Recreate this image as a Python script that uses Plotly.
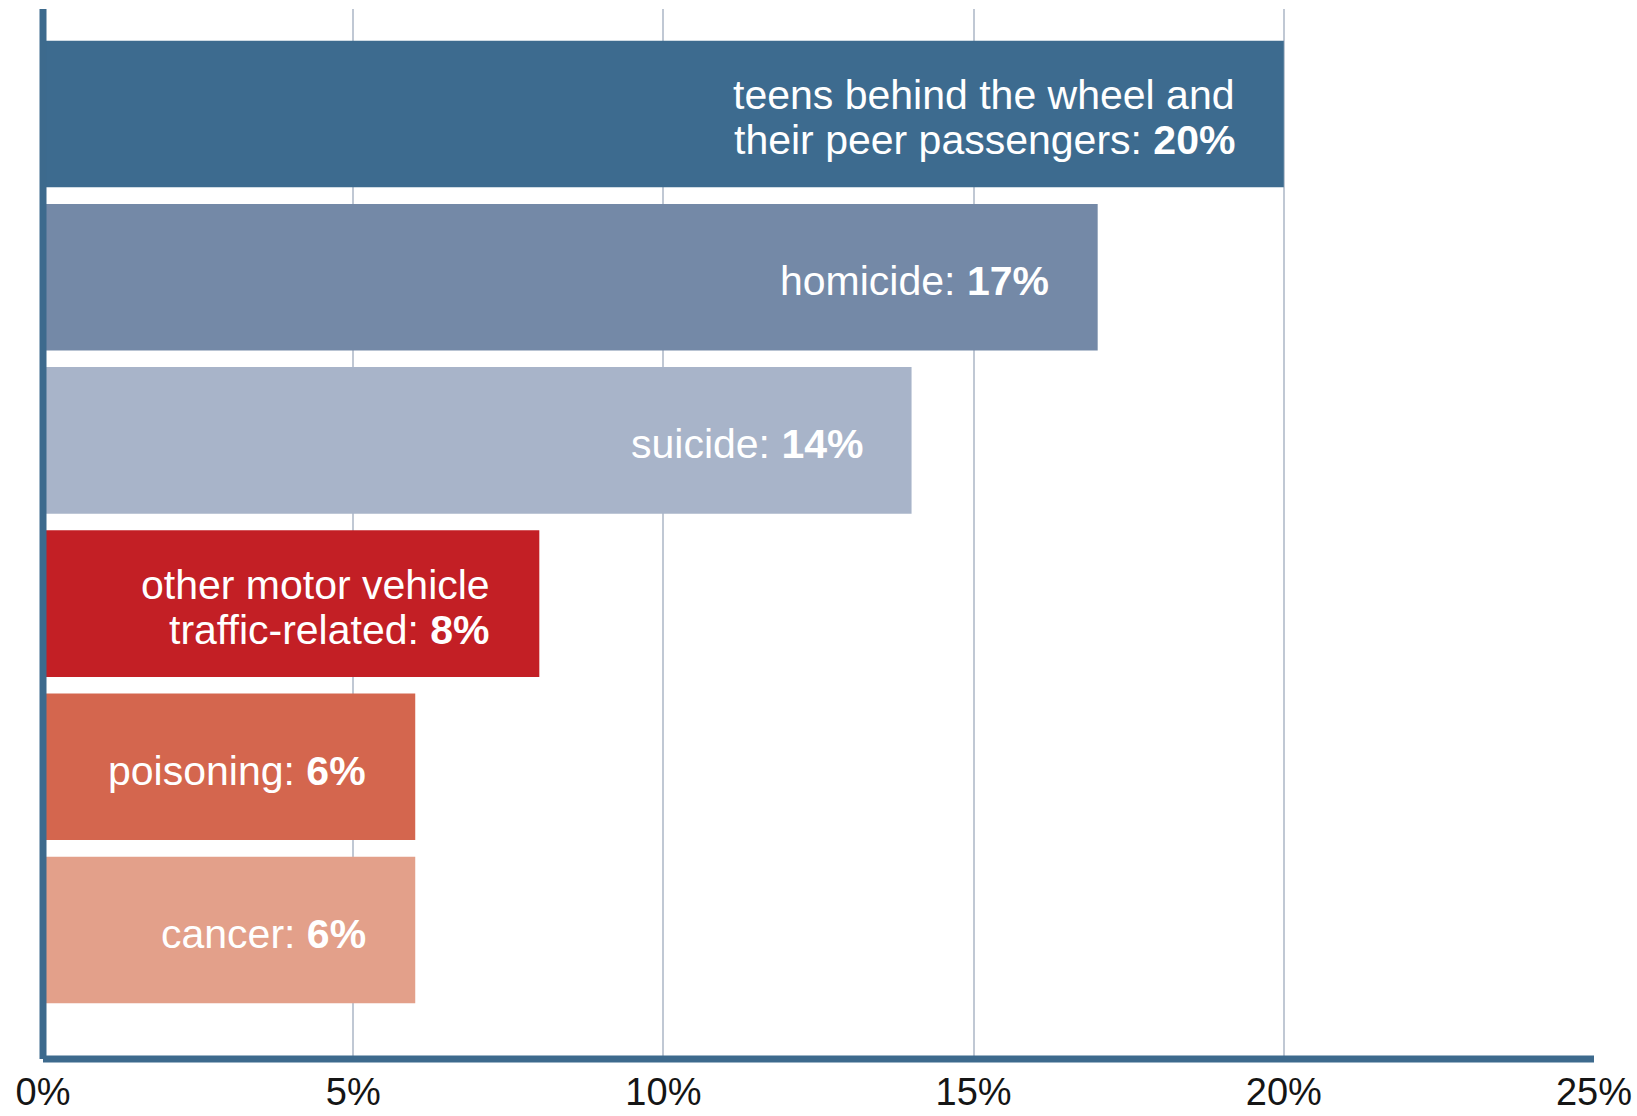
import plotly.graph_objects as go

# Leading causes of death, share of total (%)
causes = [
    "teens behind the wheel and<br>their peer passengers",
    "homicide",
    "suicide",
    "other motor vehicle<br>traffic-related",
    "poisoning",
    "cancer",
]
shares = [20, 17, 14, 8, 6, 6]
bar_colors = ["#3d6b8f", "#7489a7", "#a8b4c9", "#c31f25", "#d4664e", "#e3a08a"]
tick_values = [0, 5, 10, 15, 20, 25]
tick_labels = ["0%", "5%", "10%", "15%", "20%", "25%"]

axis_color = "#3d6a8d"
grid_color = "#c0c8d4"
font_family = "Liberation Sans, Arial, sans-serif"
label_size = 41
line_step = 45  # vertical distance between wrapped label lines, px

fig = go.Figure()
fig.add_trace(
    go.Bar(
        x=shares,
        y=causes,
        orientation="h",
        marker=dict(color=bar_colors, line=dict(width=0)),
        hoverinfo="skip",
    )
)

# In-bar labels, right-aligned near each bar's end; wrapped lines are
# placed one by one so the line spacing stays tight
for cause, share in zip(causes, shares):
    lines = cause.split("<br>")
    lines[-1] = f"{lines[-1]}: <b>{share}%</b>"
    n = len(lines)
    for i, line in enumerate(lines):
        fig.add_annotation(
            x=share,
            y=cause,
            xref="x",
            yref="y",
            text=line,
            showarrow=False,
            xanchor="right",
            yanchor="middle",
            align="right",
            xshift=-47,
            yshift=((n - 1) / 2 - i) * line_step - 4,
            font=dict(family=font_family, size=label_size, color="white"),
        )

# Heavy axis lines along the left and bottom edges of the plot area
fig.add_shape(
    type="line", xref="paper", yref="paper", x0=0, x1=0, y0=0, y1=1,
    line=dict(color=axis_color, width=7), layer="above",
)
fig.add_shape(
    type="line", xref="paper", yref="paper", x0=0, x1=1, y0=0, y1=0,
    line=dict(color=axis_color, width=7), layer="above",
)

fig.update_layout(
    width=1637,
    height=1116,
    margin=dict(l=43, r=43, t=9, b=57, autoexpand=False),
    paper_bgcolor="white",
    plot_bgcolor="white",
    bargap=0.102,
    showlegend=False,
    font=dict(family=font_family),
    xaxis=dict(
        range=[0, 25],
        tickvals=tick_values,
        ticktext=tick_labels,
        showgrid=True,
        gridcolor=grid_color,
        gridwidth=2,
        zeroline=False,
        showline=False,
        ticks="",
        automargin=False,
        ticklabelstandoff=7,
        tickfont=dict(family=font_family, size=38, color="#151515"),
        fixedrange=True,
    ),
    yaxis=dict(
        type="category",
        range=[5.79, -0.643],
        showticklabels=False,
        showgrid=False,
        zeroline=False,
        showline=False,
        ticks="",
        automargin=False,
        fixedrange=True,
    ),
)

fig.write_html("out.html")
